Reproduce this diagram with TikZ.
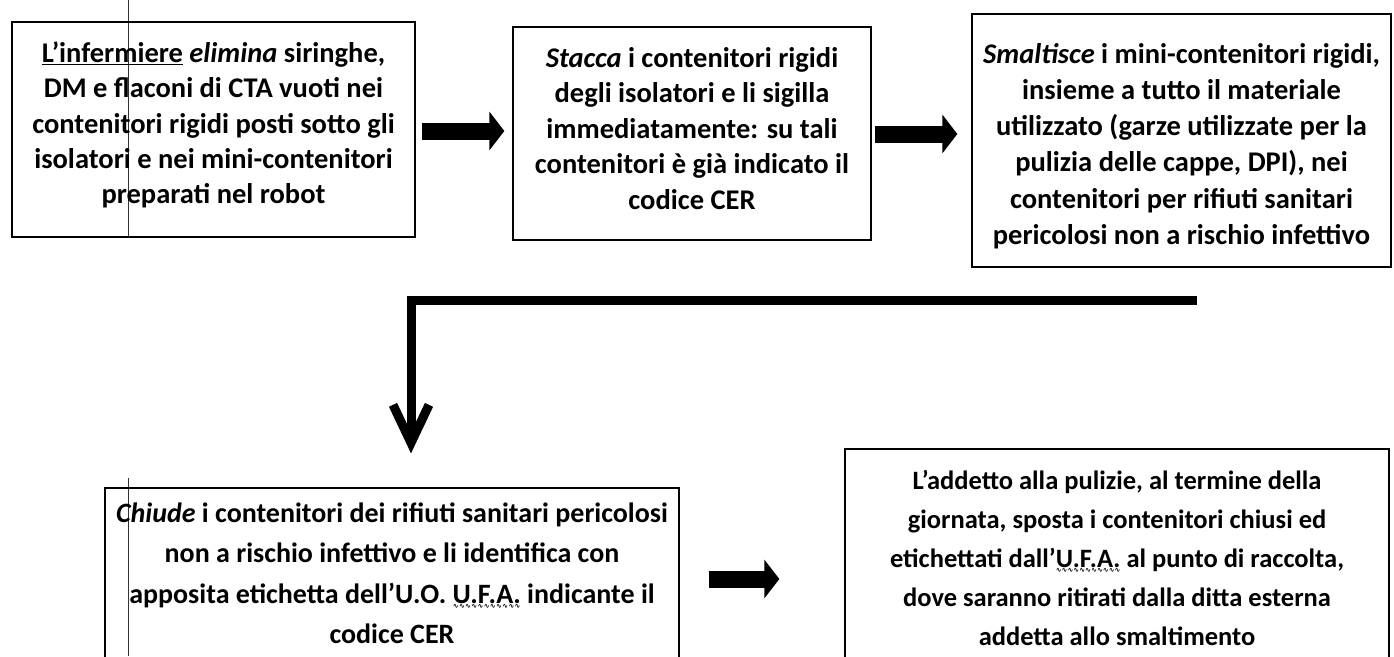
\documentclass[tikz,border=0pt]{standalone}
\usepackage{fontspec}
\setmainfont{Carlito}
\newfontfamily\dejavu{DejaVu Sans}
\newsavebox\wavebox
\newcommand\wavy[1]{\sbox\wavebox{#1}\rlap{\usebox\wavebox}\raisebox{-5pt}{\hbox to \wd\wavebox{\dejavu\fontsize{7}{7}\selectfont\xleaders\hbox{∿}\hfill}}}
\newcommand\ulword[1]{\underline{#1}}
\usetikzlibrary{arrows.meta}
\begin{document}
\begin{tikzpicture}[x=1pt,y=-1pt,
  box/.style={draw=black, line width=1.3pt, inner sep=0pt},
  txt/.style={align=center, inner sep=0pt},
  fs/.style 2 args={font=\fontsize{#1}{#2}\selectfont\bfseries},
  blockarrow/.style={line width=17pt, -{Triangle[length=15pt,width=38pt]}},
  elbow/.style={line width=9pt, -{Straight Barb[length=38pt,width=36pt]}},
  artifact/.style={line width=0.9pt, draw=black!80}
]
\useasboundingbox (0,0) rectangle (1394,656);
\clip (0,0) rectangle (1394,656);
\fill[white] (0,0) rectangle (1394,656);

% artifact scan line
\draw[artifact] (128,0) -- (128,237);
\draw[artifact] (128,478) -- (128,656);

% boxes
\node[box, minimum width=403pt, minimum height=215pt] (b1) at (213.5,129.5) {};
\node[box, minimum width=358pt, minimum height=213pt] (b2) at (692,133.5) {};
\node[box, minimum width=419pt, minimum height=253pt] (b3) at (1181.5,140.5) {};
\node[box, minimum width=574pt, minimum height=180pt] (b4) at (392,578) {};
\node[box, minimum width=544pt, minimum height=220pt] (b5) at (1117,559) {};

% texts
\node[txt, fs={28.5}{35.3}] (t1) at (213.5,125) {\ulword{L’infermiere} \textit{elimina} siringhe,\\ DM e flaconi di CTA vuoti nei\\ contenitori rigidi posti sotto gli\\ isolatori e nei mini-contenitori\\ preparati nel robot};
\node[txt, fs={28.5}{35.5}] (t2) at (692,128.5) {\textit{Stacca} i contenitori rigidi\\ degli isolatori e li sigilla\\ immediatamente: su tali\\ contenitori è già indicato il\\ codice CER};
\node[txt, fs={28.5}{36.3}] (t3) at (1181.5,146) {\textit{Smaltisce} i mini-contenitori rigidi,\\ insieme a tutto il materiale\\ utilizzato (garze utilizzate per la\\ pulizia delle cappe, DPI), nei\\ contenitori per rifiuti sanitari\\ pericolosi non a rischio infettivo};
\node[txt, fs={28}{40.5}] (t4) at (392,573) {\textit{Chiude} i contenitori dei rifiuti sanitari pericolosi\\ non a rischio infettivo e li identifica con\\ apposita etichetta dell’U.O. \wavy{U.F.A.} indicante il\\ codice CER};
\node[txt, fs={26.5}{39}] (t5) at (1117,558) {L’addetto alla pulizie, al termine della\\ giornata, sposta i contenitori chiusi ed\\ etichettati dall’\wavy{U.F.A.} al punto di raccolta,\\ dove saranno ritirati dalla ditta esterna\\ addetta allo smaltimento};

% arrows
\draw[blockarrow, shorten <=6pt, shorten >=8pt] (b1.east |- 0,131) -- (b2.west |- 0,131);
\draw[blockarrow, shorten <=3pt, shorten >=14pt] (b2.east |- 0,134) -- (b3.west |- 0,134);
\draw[blockarrow, shorten <=29pt, shorten >=65pt] (b4.east |- 0,579) -- (b5.west |- 0,579);

% elbow connector
\coordinate (e0) at (1197,300);
\coordinate (e1) at (411,300);
\draw[elbow, shorten >=34pt] (e0) -- (e1) -- (e1 |- b4.north);
\end{tikzpicture}
\end{document}
